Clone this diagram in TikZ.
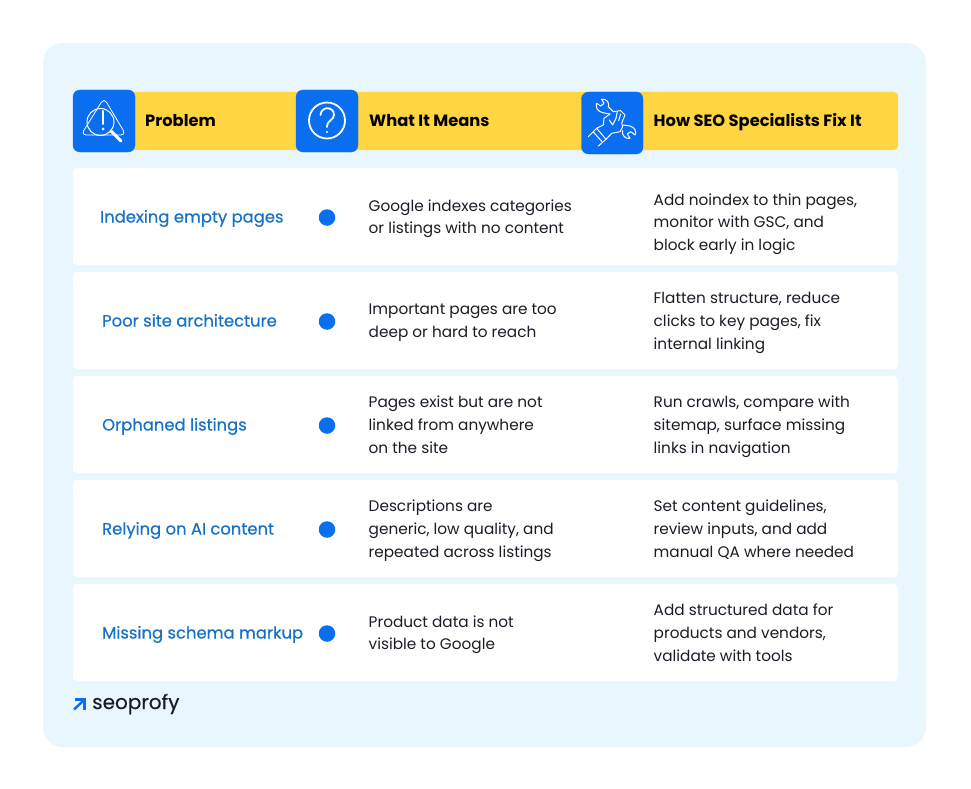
\documentclass[tikz,border=0pt]{standalone}
\usepackage{fontspec}
\setmainfont{Poppins}
\newfontfamily\mediumfont[FakeBold=0.35]{Poppins}
\definecolor{panelblue}{HTML}{EAF6FE}
\definecolor{headyellow}{HTML}{FFD542}
\definecolor{iconblue}{HTML}{0A6EF0}
\definecolor{titleblue}{HTML}{1470C8}
\definecolor{bodyink}{HTML}{1C1C28}
\tikzset{
	rowbox/.style={fill=white, rounded corners=4pt},
	iconbox/.style={fill=iconblue, draw=iconblue, rounded corners=7pt},
	headtext/.style={anchor=west, font=\fontsize{16.3}{20}\selectfont\bfseries, text=black, inner sep=0pt,
		execute at begin node=\strut},
	rowtitle/.style={anchor=west, font=\mediumfont\fontsize{16.4}{20}\selectfont, text=titleblue, inner sep=0pt,
		execute at begin node=\strut},
	rowtext/.style={anchor=west, align=left, font=\fontsize{15.3}{22.8}\selectfont, text=bodyink, inner sep=0pt,
		execute at begin node=\strut, execute at end node=\strut},
	rowdot/.style={circle, fill=iconblue, minimum size=16.5pt, inner sep=0pt},
	iconline/.style={draw=white, line width=1pt, line cap=round, line join=round}
}
\begin{document}
\begin{tikzpicture}[x=1pt, y=-1pt]
	\useasboundingbox (0,0) rectangle (971,789);
	\fill [white] (0,0) rectangle (971,789);
	\fill [panelblue, rounded corners=20pt] (43,43) rectangle (926,747);
	% Kopfzeile
	\fill [headyellow, rounded corners=4pt] (100,92) rectangle (898,150);
	\draw [iconbox] (73,90) rectangle (135,152);
	\draw [iconbox] (296,90) rectangle (358,152);
	\draw [iconbox] (581.5,92) rectangle (643,154);
	\node [headtext] (headproblem) at (145,122) {Problem};
	\node [headtext] (headmeans) at (369,122) {What It Means};
	\node [headtext] (headfix) at (653.5,122) {How SEO Specialists Fix It};
	% Symbol Lupe
	\draw [iconline, line width=0.8pt, rounded corners=5pt] (104,98) -- (126,135) -- (81,135) -- cycle;
	\draw [iconline] (100.5,122) circle (13.5);
	\draw [iconline, line width=2pt] (103,111) -- (103,124);
	\fill [white] (103,129) circle (1.5);
	\draw [iconline, line width=3pt] (111,131) -- (121,141);
	% Symbol Fragezeichen
	\draw [iconline, line width=1.8pt] (327,120.5) circle (18);
	\draw [iconline, line width=1.8pt] (320.5,115) .. controls (321,106) and (334,106) .. (334,115) .. controls (334,120) and (327,120) .. (327,127);
	\fill [white] (327,132) circle (1.2);
	% Symbol Schraubenschluessel
	\begin{scope}[shift={(580,90)}, x=0.3333pt, y=-0.3333pt]
		\draw [iconline] (90,72) -- (68,68) .. controls (52,64) and (46,52) .. (50,40) -- (62,48) -- (72,40) -- (65,28) .. controls (80,25) and (90,40) .. (85,50) -- (100,65);
		\draw [iconline] (100,65) -- (122,62) -- (135,75) -- (125,100) -- (128,110) -- (120,125) -- (95,130) -- (78,148);
		\draw [iconline] (112,64) -- (108,85) (122,72) -- (116,92);
		\draw [iconline] (90,72) -- (72,85) -- (70,105) -- (50,115) -- (25,140);
		\draw [iconline] (50,115) -- (78,148) -- (55,168);
		\draw [iconline] (40,126) -- (66,155);
		\draw [iconline] (88,90) -- (98,105) -- (108,85);
		\draw [iconline] (130,105) -- (150,108) .. controls (165,112) and (170,125) .. (165,135) -- (152,125) -- (142,132) -- (150,145) .. controls (135,148) and (125,135) .. (128,122);
	\end{scope}
	% Zeilen
	\foreach \rowtop/\rowname/\rowlabel/\titlex/\fixshift/\rowmeans/\rowfix in {
		168/indexing/Indexing empty pages/100/5.5/{Google indexes categories\\or listings with no content}/{Add noindex to thin pages,\\monitor with GSC, and\\block early in logic},
		272/architecture/Poor site architecture/102/0/{Important pages are too\\deep or hard to reach}/{Flatten structure, reduce\\clicks to key pages, fix\\internal linking},
		376/orphaned/Orphaned listings/102/0/{Pages exist but are not\\linked from anywhere\\on the site}/{Run crawls, compare with\\sitemap, surface missing\\links in navigation},
		480/relying/Relying on AI content/102/0/{Descriptions are\\generic, low quality, and\\repeated across listings}/{Set content guidelines,\\review inputs, and add\\manual QA where needed},
		584/schema/Missing schema markup/102/0/{Product data is not\\visible to Google}/{Add structured data for\\products and vendors,\\validate with tools}} {
		\fill [rowbox] (73,\rowtop) rectangle (898,\rowtop+97);
		\node [rowtitle] (title\rowname) at (\titlex,\rowtop+50.5) {\rowlabel};
		\node [rowdot] (dot\rowname) at (327,\rowtop+49.5) {};
		\node [rowtext] (means\rowname) at (368.5,\rowtop+52) {\rowmeans};
		\node [rowtext] (fix\rowname) at (653.5,\rowtop+52+\fixshift) {\rowfix};
	}
	% Logo
	\draw [iconblue, line width=2.4pt] (74,709.5) -- (84,700);
	\draw [iconblue, line width=2.4pt] (75,699.5) -- (84.5,699.5) -- (84.5,710);
	\node [anchor=west, inner sep=0pt, text=bodyink, font=\mediumfont\fontsize{20}{26}\selectfont] (logo) at (92,704) {seoprofy};
\end{tikzpicture}
\end{document}
